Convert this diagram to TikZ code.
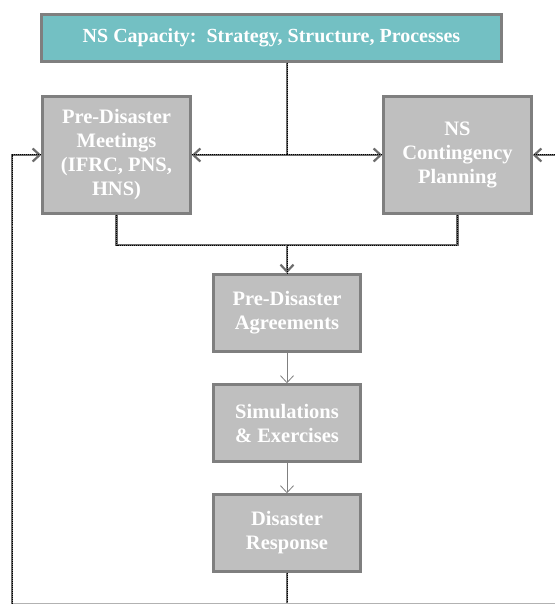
\documentclass[tikz,border=0pt]{standalone}
\usepackage{fontspec}
\setmainfont{Liberation Serif}
\usetikzlibrary{arrows.meta}
\definecolor{nsteal}{RGB}{115,192,195}
\definecolor{boxgray}{RGB}{191,191,191}
\definecolor{edgegray}{RGB}{127,127,127}
\tikzset{
  stagebox/.style={draw=edgegray, line width=2.5pt, fill=boxgray, text=white,
    font=\bfseries\fontsize{20.5}{24}\selectfont, align=center, inner sep=0pt},
  feed/.style={draw=gray!85!black, line width=2.2pt,
    postaction={draw=black, densely dotted, line width=1pt, arrows=-}},
  flow/.style={draw=gray, line width=0.8pt},
  >={Straight Barb[length=7pt,width=13pt]}
}

\begin{document}
\begin{tikzpicture}[x=1pt,y=-1pt]
  \useasboundingbox (0,0) rectangle (554,604);
  \node[stagebox, fill=nsteal, minimum width=460pt, minimum height=47pt, font=\bfseries\fontsize{20}{24}\selectfont] (top) at (271.5,38) {NS Capacity:\ \ Strategy, Structure, Processes};
  \node[stagebox, minimum width=148pt, minimum height=117pt] (meet) at (116.5,155) {Pre-Disaster\\Meetings\\(IFRC, PNS,\\HNS)};
  \node[stagebox, minimum width=148pt, minimum height=117pt] (plan) at (457.5,155) {NS\\Contingency\\Planning};
  \node[stagebox, minimum width=147pt, minimum height=77pt] (agr) at (287,313) {Pre-Disaster\\Agreements};
  \node[stagebox, minimum width=147pt, minimum height=77pt] (sim) at (287,423) {Simulations\\\& Exercises};
  \node[stagebox, minimum width=147pt, minimum height=77pt] (resp) at (287,533) {Disaster\\Response};

  % split below the capacity box
  \coordinate (split) at (287,155);
  \draw[feed] (top.south -| split) -- (split);
  \draw[feed,->] (split) -- (split -| meet.east);
  \draw[feed,->] (split) -- (split -| plan.west);

  % both planning boxes feed the agreements
  \coordinate (join) at (287,245);
  \draw[feed] (meet.south) |- (join) -| (plan.south);
  \draw[feed,->] (join) -- (agr.north);

  \draw[flow,->] (agr) -- (sim);
  \draw[flow,->] (sim) -- (resp);

  % feedback loop, runs off the page
  \coordinate (loopL) at (12,603.5);
  \coordinate (loopR) at (562,603.5);
  \draw[feed] (resp.south) -- (resp.south |- loopL);
  \draw[flow, draw=gray!60] (loopL) -- (loopR);
  \draw[feed,->] (loopL) |- (split -| meet.west);
  \draw[feed,->] (loopR) |- (split -| plan.east);
\end{tikzpicture}
\end{document}
